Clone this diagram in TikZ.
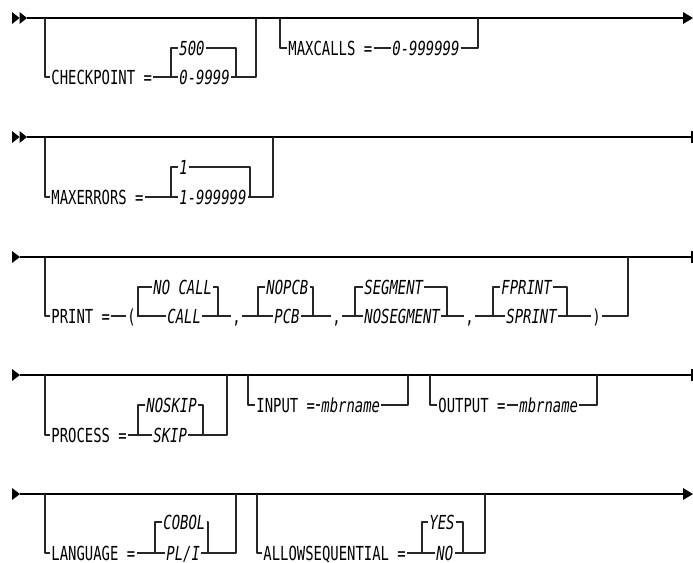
\documentclass[tikz,border=0pt]{standalone}
\usepackage{fontspec}
\setmainfont{DejaVu Sans Mono}[FakeStretch=0.72]

\tikzset{
  rail/.style={line width=1.1pt},
  branch/.style={line width=0.8pt, black!85},
  kw/.style={anchor=west, inner xsep=0.6pt, inner ysep=0pt, text height=8pt, text depth=0pt, font=\fontsize{11}{13}\selectfont},
  val/.style={kw, font=\fontsize{11}{13}\selectfont\itshape},
  tip/.style={fill=black}
}

\begin{document}
\begin{tikzpicture}[line join=round,x=0.02cm,y=-0.02cm]
\useasboundingbox (0,0) rectangle (693,562);
% row 1
\begin{scope}[shift={(0,18)}]
\fill[tip] (12,-6)--(19.5,0)--(12,6)--cycle;
\fill[tip] (19.5,-6)--(27,0)--(19.5,6)--cycle;
\coordinate (r1s) at (27,0);
\coordinate (r1e) at (683,0);
\draw[rail] (r1s)--(r1e);
\fill[tip] (683,-6)--(693,0)--(683,6)--cycle;
\coordinate (r1a) at (45,0);
\coordinate (r1b) at (256,0);
\coordinate (r1c) at (236,59);
\node[kw] (chk) at (50,59) {CHECKPOINT =};
\node[val] (chkdef) at (178,30) {500};
\node[val] (chkval) at (178,59) {0-9999};
\draw[branch] (r1a) |- (chk.west);
\draw[branch] (chk.east)--(chkval.west);
\draw[branch] (chkdef.west)--++(-7,0)--++(0,29);
\draw[branch] (chkdef.east) -| (r1c);
\draw[branch] (chkval.east) -| (r1b);
\coordinate (r1d) at (280,0);
\coordinate (r1f) at (478,0);
\node[kw] (mxc) at (287,30) {MAXCALLS =};
\node[val] (mxcval) at (391,30) {0-999999};
\draw[branch] (r1d) |- (mxc.west);
\draw[branch] (mxc.east)--(mxcval.west);
\draw[branch] (mxcval.east) -| (r1f);
\end{scope}
% row 2
\begin{scope}[shift={(0,137)}]
\fill[tip] (12,-6)--(19.5,0)--(12,6)--cycle;
\fill[tip] (19.5,-6)--(27,0)--(19.5,6)--cycle;
\coordinate (r2s) at (27,0);
\coordinate (r2e) at (692,0);
\draw[rail] (r2s)--(r2e);
\draw[rail] (r2e)++(0,-6)--++(0,12);
\coordinate (r2a) at (45,0);
\coordinate (r2b) at (273,0);
\coordinate (r2c) at (250,60);
\node[kw] (mxe) at (50,60) {MAXERRORS =};
\node[val] (mxedef) at (178,30) {1};
\node[val] (mxeval) at (178,60) {1-999999};
\draw[branch] (r2a) |- (mxe.west);
\draw[branch] (mxe.east)--(mxeval.west);
\draw[branch] (mxedef.west)--++(-7,0)--++(0,30);
\draw[branch] (mxedef.east) -| (r2c);
\draw[branch] (mxeval.east) -| (r2b);
\end{scope}
% row 3
\begin{scope}[shift={(0,257)}]
\fill[tip] (12,-6)--(20,0)--(12,6)--cycle;
\coordinate (r3s) at (20,0);
\coordinate (r3e) at (692,0);
\draw[rail] (r3s)--(r3e);
\draw[rail] (r3e)++(0,-6)--++(0,12);
\coordinate (r3a) at (45,0);
\coordinate (r3b) at (628,0);
\node[kw] (prt) at (50,59) {PRINT =};
\node[kw] (lp) at (126,59) {(};
\draw[branch] (r3a) |- (prt.west);
\draw[branch] (prt.east)--(lp.west);
% CALL
\coordinate (r3c) at (218,59);
\node[val] (ncall) at (152,30) {NO CALL};
\node[val] (call) at (166,59) {CALL};
\node[kw] (cm1) at (231,59) {,};
\draw[branch] (lp.east)--(call.west);
\draw[branch] (ncall.west)--++(-14,0)--++(0,29);
\draw[branch] (ncall.east) -| (r3c);
\draw[branch] (call.east)--(cm1.west);
% PCB
\coordinate (r3d) at (313,59);
\node[val] (nopcb) at (265,30) {NOPCB};
\node[val] (pcb) at (273,59) {PCB};
\node[kw] (cm2) at (331,59) {,};
\draw[branch] (cm1.east)--(pcb.west);
\draw[branch] (nopcb.west)--++(-7,0)--++(0,29);
\draw[branch] (nopcb.east) -| (r3d);
\draw[branch] (pcb.east)--(cm2.west);
% SEGMENT
\coordinate (r3f) at (447,59);
\node[val] (seg) at (363,30) {SEGMENT};
\node[val] (noseg) at (363,59) {NOSEGMENT};
\node[kw] (cm3) at (464,59) {,};
\draw[branch] (cm2.east)--(noseg.west);
\draw[branch] (seg.west)--++(-8,0)--++(0,29);
\draw[branch] (seg.east) -| (r3f);
\draw[branch] (noseg.east)--(cm3.west);
% FPRINT
\coordinate (r3g) at (567,59);
\node[val] (fpr) at (500,30) {FPRINT};
\node[val] (spr) at (505,59) {SPRINT};
\node[kw] (rp) at (591,59) {)};
\draw[branch] (cm3.east)--(spr.west);
\draw[branch] (fpr.west)--++(-7,0)--++(0,29);
\draw[branch] (fpr.east) -| (r3g);
\draw[branch] (spr.east)--(rp.west);
\draw[branch] (rp.east) -| (r3b);
\end{scope}
% row 4
\begin{scope}[shift={(0,375)}]
\fill[tip] (12,-6)--(20,0)--(12,6)--cycle;
\coordinate (r4s) at (20,0);
\coordinate (r4e) at (692,0);
\draw[rail] (r4s)--(r4e);
\draw[rail] (r4e)++(0,-6)--++(0,12);
\coordinate (r4a) at (45,0);
\coordinate (r4b) at (227,0);
\coordinate (r4c) at (203,60);
\node[kw] (prc) at (50,60) {PROCESS =};
\node[val] (nskip) at (145,30) {NOSKIP};
\node[val] (skip) at (152,60) {SKIP};
\draw[branch] (r4a) |- (prc.west);
\draw[branch] (prc.east)--(skip.west);
\draw[branch] (nskip.west)--++(-7,0)--++(0,30);
\draw[branch] (nskip.east) -| (r4c);
\draw[branch] (skip.east) -| (r4b);
\coordinate (r4d) at (248,0);
\coordinate (r4f) at (408,0);
\node[kw] (inp) at (255,30) {INPUT =};
\node[val] (mbra) at (320,30) {mbrname};
\draw[branch] (r4d) |- (inp.west);
\draw[branch] (inp.east)--(mbra.west);
\draw[branch] (mbra.east) -| (r4f);
\coordinate (r4g) at (430,0);
\coordinate (r4h) at (597,0);
\node[kw] (outp) at (437,30) {OUTPUT =};
\node[val] (mbrb) at (518,30) {mbrname};
\draw[branch] (r4g) |- (outp.west);
\draw[branch] (outp.east)--(mbrb.west);
\draw[branch] (mbrb.east) -| (r4h);
\end{scope}
% row 5
\begin{scope}[shift={(0,494)}]
\fill[tip] (12,-6)--(20,0)--(12,6)--cycle;
\coordinate (r5s) at (20,0);
\coordinate (r5e) at (683,0);
\draw[rail] (r5s)--(r5e);
\fill[tip] (683,-6)--(693,0)--(683,6)--cycle;
\coordinate (r5a) at (45,0);
\coordinate (r5b) at (236,0);
\coordinate (r5c) at (208,59);
\node[kw] (lng) at (50,59) {LANGUAGE =};
\node[val] (cobol) at (162,28) {COBOL};
\node[val] (pli) at (165,59) {PL/I};
\draw[branch] (r5a) |- (lng.west);
\draw[branch] (lng.east)--(pli.west);
\draw[branch] (cobol.west)--++(-7,0)--++(0,31);
\draw[branch] (cobol.east) -| (r5c);
\draw[branch] (pli.east) -| (r5b);
\coordinate (r5d) at (257,0);
\coordinate (r5f) at (485,0);
\coordinate (r5g) at (463,59);
\node[kw] (alw) at (262,59) {ALLOWSEQUENTIAL =};
\node[val] (yes) at (428,28) {YES};
\node[val] (no) at (435,59) {NO};
\draw[branch] (r5d) |- (alw.west);
\draw[branch] (alw.east)--(no.west);
\draw[branch] (yes.west)--++(-6,0)--++(0,31);
\draw[branch] (yes.east) -| (r5g);
\draw[branch] (no.east) -| (r5f);
\end{scope}
\end{tikzpicture}
\end{document}
